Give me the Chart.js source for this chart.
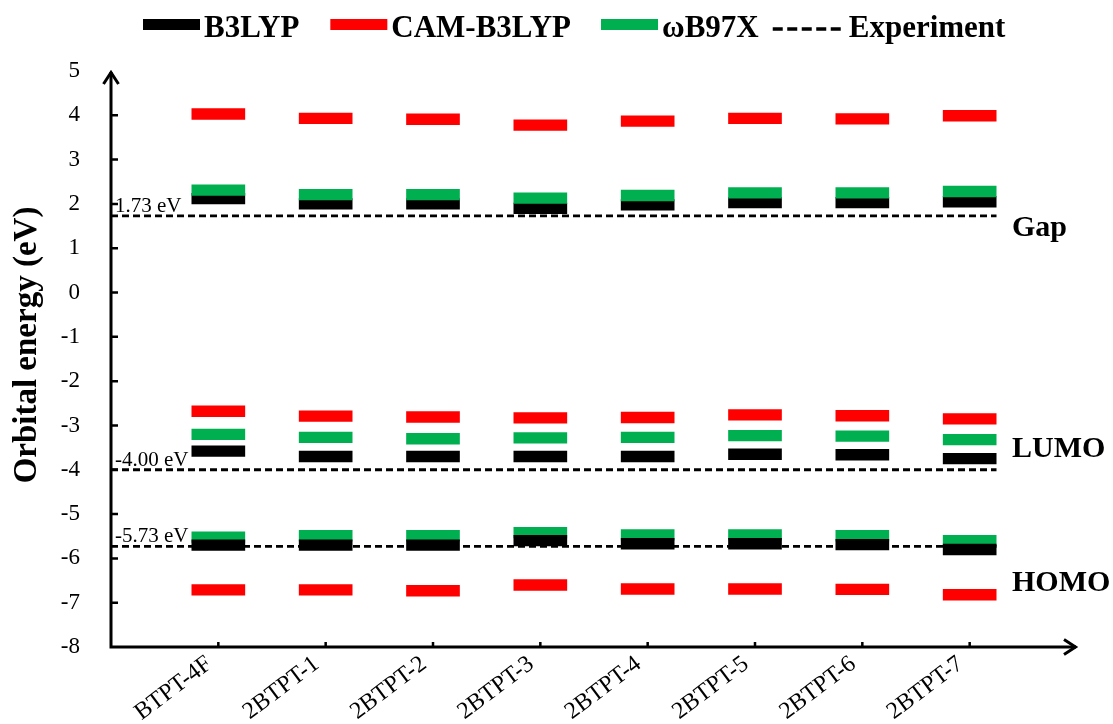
<!DOCTYPE html>
<html>
<head>
<meta charset="utf-8">
<title>Orbital energies</title>
<script src="https://cdn.jsdelivr.net/npm/chart.js@4.4.1/dist/chart.umd.min.js"></script>
<style>
  html, body { margin: 0; padding: 0; background: #ffffff; }
  #wrap { width: 1113px; height: 724px; position: relative; }
</style>
</head>
<body>
<div id="wrap"><canvas id="chart"></canvas></div>
<script>
// Molecules along the x axis
const categories = ['BTPT-4F', '2BTPT-1', '2BTPT-2', '2BTPT-3', '2BTPT-4', '2BTPT-5', '2BTPT-6', '2BTPT-7'];

// Computed levels (eV) for each functional
const b3lypGap   = [2.12, 2.00, 2.00, 1.90, 1.98, 2.03, 2.03, 2.05];
const b3lypLumo  = [-3.58, -3.70, -3.70, -3.70, -3.70, -3.65, -3.66, -3.75];
const b3lypHomo  = [-5.70, -5.70, -5.70, -5.60, -5.67, -5.67, -5.69, -5.80];

const camGap     = [4.03, 3.93, 3.91, 3.78, 3.87, 3.93, 3.92, 3.99];
const camLumo    = [-2.68, -2.79, -2.81, -2.83, -2.82, -2.76, -2.78, -2.85];
const camHomo    = [-6.71, -6.71, -6.73, -6.60, -6.69, -6.69, -6.70, -6.82];

const wb97xGap   = [2.31, 2.21, 2.21, 2.13, 2.19, 2.25, 2.25, 2.28];
const wb97xLumo  = [-3.20, -3.27, -3.30, -3.28, -3.27, -3.23, -3.24, -3.32];
const wb97xHomo  = [-5.52, -5.49, -5.49, -5.42, -5.47, -5.47, -5.49, -5.60];

// Measured reference levels: gap, LUMO, HOMO
const experimentLevels = [1.73, -4.00, -5.73];
const levelNames = ['Gap', 'LUMO', 'HOMO'];

// Energy axis
const yTickValues = [-8, -7, -6, -5, -4, -3, -2, -1, 0, 1, 2, 3, 4, 5];

const seriesNames = ['B3LYP', 'CAM-B3LYP', '\u03C9B97X', 'Experiment'];
const seriesColors = ['#000000', '#FF0000', '#00B050', '#000000'];

const SERIF = "'Liberation Serif', 'Times New Roman', serif";
const LEVEL_HALF = 0.128;  // half thickness of an energy-level bar, in eV

function levelBars(label, values, color, order) {
  return {
    type: 'bar',
    label: label,
    data: values.map((v, i) => ({ x: i + 1, y: [v - LEVEL_HALF, v + LEVEL_HALF] })),
    backgroundColor: color,
    borderWidth: 0,
    grouped: false,
    categoryPercentage: 1,
    barPercentage: 0.5,
    order: order
  };
}

const experimentLines = experimentLevels.map(v => ({
  type: 'line',
  label: 'Experiment',
  data: [{ x: 0, y: v }, { x: categories.length + 0.25, y: v }],
  borderColor: '#000000',
  borderWidth: 2.8,
  borderDash: [7, 4],
  pointRadius: 0,
  fill: false,
  order: -1
}));

const datasets = [
  levelBars('CAM-B3LYP', camGap, seriesColors[1], 3),
  levelBars('\u03C9B97X', wb97xGap, seriesColors[2], 1),
  levelBars('B3LYP', b3lypGap, seriesColors[0], 2),
  levelBars('CAM-B3LYP', camLumo, seriesColors[1], 3),
  levelBars('\u03C9B97X', wb97xLumo, seriesColors[2], 2),
  levelBars('B3LYP', b3lypLumo, seriesColors[0], 1),
  levelBars('CAM-B3LYP', camHomo, seriesColors[1], 3),
  levelBars('\u03C9B97X', wb97xHomo, seriesColors[2], 2),
  levelBars('B3LYP', b3lypHomo, seriesColors[0], 1),
  ...experimentLines
];

// Axes with arrowheads, inward ticks, axis title, annotations and legend
const decor = {
  id: 'decor',
  afterDatasetsDraw(chart) {
    const { ctx, scales: { x, y } } = chart;
    const x0 = x.getPixelForValue(x.min);
    const xEnd = x.getPixelForValue(x.max);
    const y0 = y.getPixelForValue(y.min);
    const yTop = y.getPixelForValue(y.max);
    ctx.save();
    ctx.strokeStyle = '#000';
    ctx.fillStyle = '#000';
    ctx.setLineDash([]);
    ctx.lineCap = 'butt';
    ctx.lineJoin = 'miter';

    // tick marks
    ctx.lineWidth = 2.5;
    ctx.beginPath();
    yTickValues.slice(1, -1).forEach(v => {
      const py = y.getPixelForValue(v);
      ctx.moveTo(x0, py); ctx.lineTo(x0 + 7, py);
    });
    categories.forEach((c, i) => {
      const px = x.getPixelForValue(i + 1);
      ctx.moveTo(px, y0); ctx.lineTo(px, y0 - 5);
    });
    ctx.stroke();

    // axis lines
    ctx.lineWidth = 3;
    ctx.beginPath();
    ctx.moveTo(x0, y0 + 1.5); ctx.lineTo(x0, yTop + 1);
    ctx.moveTo(x0 - 1.5, y0); ctx.lineTo(xEnd - 1, y0);
    ctx.stroke();

    // arrowheads
    ctx.beginPath();
    ctx.moveTo(x0 - 7.5, yTop + 13); ctx.lineTo(x0, yTop + 1.5); ctx.lineTo(x0 + 7.5, yTop + 13);
    ctx.moveTo(xEnd - 13, y0 - 7.5); ctx.lineTo(xEnd - 1.5, y0); ctx.lineTo(xEnd - 13, y0 + 7.5);
    ctx.stroke();

    // axis title
    ctx.save();
    ctx.translate(27, (yTop + y0) / 2 - 14);
    ctx.rotate(-Math.PI / 2);
    ctx.font = 'bold 33px ' + SERIF;
    ctx.textAlign = 'center';
    ctx.textBaseline = 'middle';
    ctx.fillText('Orbital energy (eV)', 0, 0);
    ctx.restore();

    // experiment values above their lines
    ctx.font = '21px ' + SERIF;
    ctx.textAlign = 'left';
    ctx.textBaseline = 'alphabetic';
    experimentLevels.forEach(v => {
      const py = y.getPixelForValue(v);
      ctx.fillText(v.toFixed(2) + ' eV', x0 + 4, py - 4);
    });

    // level names on the right
    ctx.font = 'bold 30px ' + SERIF;
    const namePos = [1.28, -3.71, -6.73];
    levelNames.forEach((n, i) => {
      ctx.fillText(n, 1012, y.getPixelForValue(namePos[i]));
    });

    // legend
    ctx.font = 'bold 31px ' + SERIF;
    const gapsAfter = [31, 30, 14, 0];
    let lx = 143;
    const baseY = 37;
    seriesNames.forEach((name, i) => {
      if (i < 3) {
        ctx.fillStyle = seriesColors[i];
        ctx.fillRect(lx, 19, 57, 11);
        lx += 57 + 4;
      } else {
        ctx.strokeStyle = seriesColors[i];
        ctx.lineWidth = 3.5;
        ctx.setLineDash([10, 4.5]);
        ctx.beginPath();
        ctx.moveTo(lx, 29); ctx.lineTo(lx + 68, 29);
        ctx.stroke();
        ctx.setLineDash([]);
        lx += 68 + 8;
      }
      ctx.fillStyle = '#000';
      ctx.fillText(name, lx, baseY);
      lx += ctx.measureText(name).width + gapsAfter[i];
    });
    ctx.restore();
  }
};

new Chart(document.getElementById('chart'), {
  type: 'bar',
  data: { datasets: datasets },
  options: {
    responsive: true,
    maintainAspectRatio: false,
    animation: false,
    devicePixelRatio: 1,
    layout: { padding: { top: 71, right: 36, left: 0, bottom: 0 } },
    plugins: {
      legend: { display: false },
      tooltip: { enabled: false },
      title: { display: false }
    },
    scales: {
      x: {
        type: 'linear',
        min: 0,
        max: categories.length + 1,
        offset: false,
        grid: { display: false, drawTicks: false, offset: false },
        border: { display: false },
        ticks: {
          stepSize: 1,
          autoSkip: false,
          maxRotation: 37,
          minRotation: 37,
          padding: 3,
          labelOffset: -9,
          color: '#000',
          font: { family: SERIF, size: 24 },
          callback: v => categories[v - 1] || ''
        },
        afterFit: s => { s.height = 77; }
      },
      y: {
        type: 'linear',
        min: yTickValues[0],
        max: yTickValues[yTickValues.length - 1],
        grid: { display: false, drawTicks: false },
        border: { display: false },
        ticks: {
          stepSize: 1,
          padding: 31,
          color: '#000',
          font: { family: SERIF, size: 23 }
        },
        afterFit: s => { s.width = 111; }
      }
    }
  },
  plugins: [decor]
});
</script>
</body>
</html>
